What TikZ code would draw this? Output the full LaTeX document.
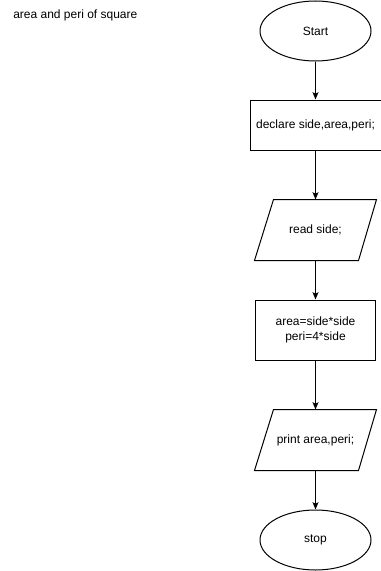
\documentclass[tikz,border=0pt]{standalone}
\usepackage{fontspec}
\setmainfont{Liberation Sans}
\usetikzlibrary{shapes.geometric,arrows.meta}

\tikzset{
  io/.style={rectangle, draw=none, minimum width=90.75pt, minimum height=45pt,
    append after command={\pgfextra{\draw[line width=0.75pt]
      ([xshift=14.25pt]\tikzlastnode.north west) -- (\tikzlastnode.north east)
      -- ([xshift=-13.5pt]\tikzlastnode.south east) -- (\tikzlastnode.south west) -- cycle;}}}
}

\begin{document}
\begin{tikzpicture}[x=0.75pt,y=-0.75pt,font=\fontsize{9}{11}\selectfont]

          \useasboundingbox (0,0) rectangle (381,571);

          \node[anchor=west, inner sep=0pt] (title) at (13,15) {area and peri of square};

          \begin{scope}[every node/.style={draw, line width=0.75pt, inner sep=0pt, align=center}]
            \node[ellipse, minimum width=83.25pt, minimum height=45pt] (start)  at (315.5,31)  {Start};
            \node[rectangle, minimum width=98.25pt, minimum height=37.5pt] (decl)  at (315.5,125)  {declare side,area,peri;};
            \node[io] (read)  at (315.5,230)  {read side;};
            \node[rectangle, minimum width=90pt, minimum height=45pt] (calc)  at (315.5,330)  {area=side*side\\peri=4*side};
            \node[io] (print)  at (315.5,440)  {print area,peri;};
            \node[ellipse, minimum width=83.25pt, minimum height=45pt] (stop)  at (315.5,540)  {stop};
          \end{scope}

          \begin{scope}[every edge/.style={draw, line width=0.75pt, -{Stealth[length=5.5pt,width=4.5pt,inset=1.2pt]}}]
            \path (start)  edge (decl);
            \path (decl)  edge (read);
            \path (read)  edge (calc);
            \path (calc)  edge (print);
            \path (print)  edge (stop);
          \end{scope}

        \end{tikzpicture}
\end{document}
